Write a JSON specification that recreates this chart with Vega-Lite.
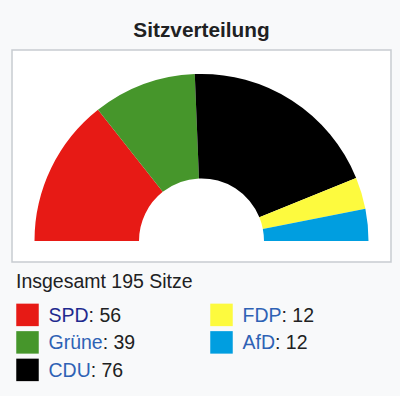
{
  "$schema": "https://vega.github.io/schema/vega-lite/v6.json",
  "background": "#f8f9fa",
  "padding": {"left": 11, "top": 19.9, "right": 10, "bottom": 14.25},
  "autosize": {"type": "pad"},
  "bounds": "flush",
  "spacing": 39.25,
  "title": {"text": "Sitzverteilung", "font": "Liberation Sans", "fontSize": 20.8, "fontWeight": "bold", "color": "#202122", "anchor": "middle", "offset": 7.3},
  "config": {"font": "Liberation Sans"},
  "datasets": {
    "seats": [
      {"party": "SPD", "seats": 56},
      {"party": "Grüne", "seats": 39},
      {"party": "CDU", "seats": 76},
      {"party": "FDP", "seats": 12},
      {"party": "AfD", "seats": 12}
    ]
  },
  "vconcat": [
    {
      "width": 379,
      "height": 212,
      "view": {"fill": "#ffffff", "stroke": "#c8ccd1", "strokeWidth": 1.5},
      "data": {"name": "seats"},
      "transform": [{"window": [{"op": "row_number", "as": "rank"}]}],
      "mark": {"type": "arc", "outerRadius": 167, "innerRadius": 62.5},
      "encoding": {
        "theta": {"field": "seats", "type": "quantitative", "stack": true, "scale": {"range": [-1.5708, 1.5708]}},
        "order": {"field": "rank", "type": "quantitative"},
        "y": {"datum": 0, "type": "quantitative", "scale": {"domain": [-0.11, 1]}, "axis": null},
        "color": {"field": "party", "type": "nominal", "scale": {"domain": ["SPD", "Grüne", "CDU", "FDP", "AfD"], "range": ["#e71a15", "#46962b", "#000000", "#fdfa3e", "#009ee0"]}, "legend": null}
      }
    },
    {
      "bounds": "flush",
      "spacing": 163,
      "hconcat": [
        {
          "width": 31,
          "height": {"step": 27.5},
          "view": {"stroke": null},
          "title": {"text": "Insgesamt 195 Sitze", "anchor": "start", "font": "Liberation Sans", "fontSize": 19.5, "fontWeight": "normal", "color": "#202122", "dx": 4, "offset": 8.9},
          "data": {"name": "seats"},
          "transform": [{"filter": {"field": "party", "oneOf": ["SPD", "Grüne", "CDU"]}}],
          "encoding": {"y": {"field": "party", "type": "nominal", "sort": ["SPD", "Grüne", "CDU"], "axis": null}},
          "layer": [
            {"mark": {"type": "square", "size": 506, "opacity": 1}, "encoding": {"color": {"field": "party", "type": "nominal", "scale": {"domain": ["SPD", "Grüne", "CDU", "FDP", "AfD"], "range": ["#e71a15", "#46962b", "#000000", "#fdfa3e", "#009ee0"]}, "legend": null}}},
            {"mark": {"type": "text", "align": "left", "baseline": "alphabetic", "dx": 21, "dy": 7, "fontSize": 19.5}, "encoding": {"text": {"field": "party"}, "color": {"condition": {"test": "datum.party === 'SPD'", "value": "#1f2a8f"}, "value": "#2e62b5"}}},
            {"mark": {"type": "text", "align": "left", "baseline": "alphabetic", "dy": 7, "fontSize": 19.5, "color": "#202122", "dx": {"expr": "21 + (datum.party === 'SPD' ? 40.1 : datum.party === 'Grüne' ? 54.2 : 42.2)"}, "text": {"expr": "': ' + datum.seats"}}, "encoding": {}}
          ]
        },
        {
          "width": 31,
          "height": {"step": 27.5},
          "view": {"stroke": null},
          "data": {"name": "seats"},
          "transform": [{"filter": {"field": "party", "oneOf": ["FDP", "AfD"]}}],
          "encoding": {"y": {"field": "party", "type": "nominal", "sort": ["FDP", "AfD"], "axis": null}},
          "layer": [
            {"mark": {"type": "square", "size": 506, "opacity": 1}, "encoding": {"color": {"field": "party", "type": "nominal", "scale": {"domain": ["SPD", "Grüne", "CDU", "FDP", "AfD"], "range": ["#e71a15", "#46962b", "#000000", "#fdfa3e", "#009ee0"]}, "legend": null}}},
            {"mark": {"type": "text", "align": "left", "baseline": "alphabetic", "dx": 21, "dy": 7, "fontSize": 19.5}, "encoding": {"text": {"field": "party"}, "color": {"value": "#2e62b5"}}},
            {"mark": {"type": "text", "align": "left", "baseline": "alphabetic", "dy": 7, "fontSize": 19.5, "color": "#202122", "dx": {"expr": "21 + (datum.party === 'FDP' ? 39.0 : 32.5)"}, "text": {"expr": "': ' + datum.seats"}}, "encoding": {}}
          ]
        }
      ]
    }
  ]
}
